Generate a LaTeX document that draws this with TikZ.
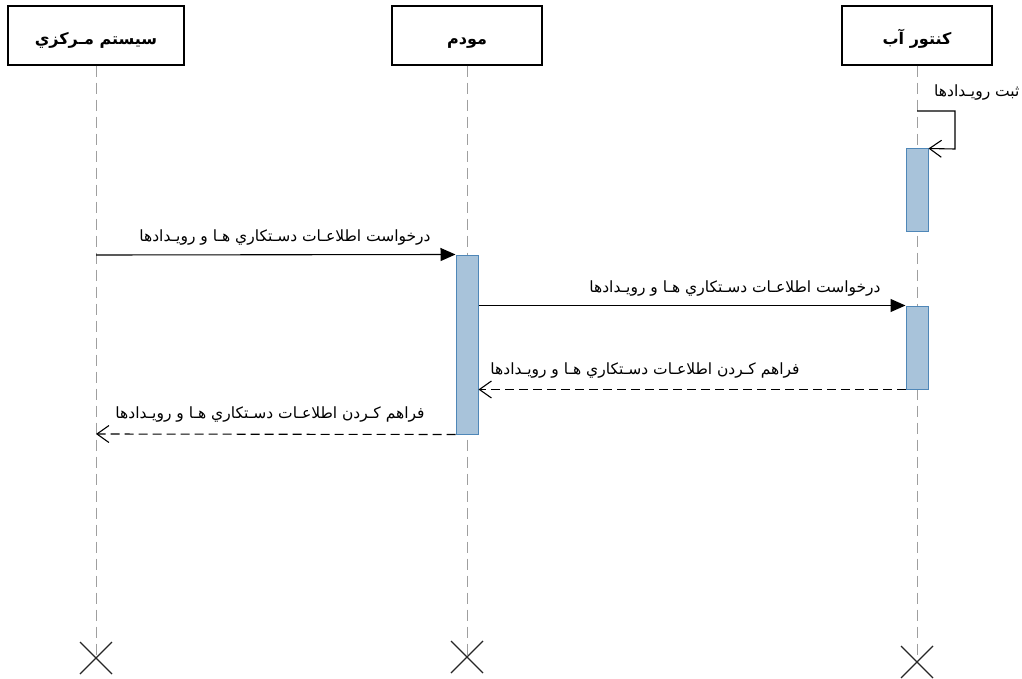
\documentclass[tikz,border=0pt]{standalone}
\usepackage{fontspec}
\newfontfamily\arabicfont[Script=Arabic]{DejaVu Sans}
\TeXXeTstate=1
\usetikzlibrary{arrows.meta,calc}
\definecolor{actfill}{RGB}{168,195,218}
\definecolor{actdraw}{RGB}{79,135,184}
\begin{document}
\begin{tikzpicture}[x=1pt,y=-1pt,
  head/.style={draw,line width=1.2pt,fill=white,inner sep=0pt,text height=20pt,text depth=1pt,font=\arabicfont\bfseries\fontsize{16}{18}\selectfont},
  life/.style={draw=gray!75,dash pattern=on 11pt off 6pt,line width=1pt},
  act/.style={draw=actdraw,fill=actfill,line width=1pt,inner sep=0pt,minimum width=22pt},
  msg/.style={line width=1.1pt,-{Triangle[length=15pt,width=13pt]}},
  ret/.style={line width=1.1pt,dash pattern=on 9pt off 5pt,-{Straight Barb[length=12pt,width=17pt]}},
  lab/.style={font=\arabicfont\fontsize{15.5}{18}\selectfont,inner sep=1pt},
  endx/.style={line width=1.1pt,black!85}]
\useasboundingbox (0,0) rectangle (1022,679);
\clip (0,0) rectangle (1022,679);
% headers
\node[head,minimum width=176pt,minimum height=59pt] (cs) at (96,35.5) {\beginR سیستم مـرکزي\endR};
\node[head,minimum width=150pt,minimum height=59pt] (mo) at (467,35.5) {\beginR مودم\endR};
\node[head,minimum width=150pt,minimum height=59pt] (wm) at (917,35.5) {\beginR کنتور آب\endR};
% end coordinates
\coordinate (csE) at (96,658);
\coordinate (moE) at (467,657);
\coordinate (wmE) at (917,662);
\draw[life] (cs.south) -- (csE);
\draw[life] (mo.south) -- (moE);
\draw[life] (wm.south) -- (wmE);
% X markers
\foreach \p in {csE,moE,wmE}{
  \draw[endx] ($(\p)+(-16,-16)$) -- ($(\p)+(16,16)$);
  \draw[endx] ($(\p)+(-16,16)$) -- ($(\p)+(16,-16)$);
}
% activations
\node[act,minimum height=82pt] (a1) at (917,190) {};
\node[act,minimum height=179pt] (a2) at (467,344.5) {};
\node[act,minimum height=83pt] (a3) at (917,347.5) {};
% self message
\coordinate (s0) at (917,111);
\coordinate (s1) at (955,111);
\coordinate (s2) at (955,149);
\draw[line width=1.1pt,-{Straight Barb[length=12pt,width=17pt]}] (s0) -- (s1) -- (s2) -- (a1.north east);
\node[lab,anchor=west] (l0) at (933,93) {\beginR ثبت رویـدادها\endR};
% messages
\coordinate (m1s) at (96,255);
\draw[msg] (m1s) -- (a2.north west);
\node[lab] (l1) at (285,238) {\beginR درخواست اطلاعـات دسـتكاري هـا و رويـدادها\endR};
\draw[msg] (a2.east |- a3.north) -- (a3.north west);
\node[lab] (l2) at (735,289) {\beginR درخواست اطلاعـات دسـتكاري هـا و رويـدادها\endR};
\draw[ret] (a3.south west) -- (a2.east |- a3.south);
\node[lab] (l3) at (645,371) {\beginR فراهم كـردن اطلاعـات دسـتكاري هـا و رويـدادها\endR};
\coordinate (m4e) at (96,434);
\draw[ret] (a2.south west) -- (m4e);
\node[lab] (l4) at (270,415) {\beginR فراهم كـردن اطلاعـات دسـتكاري هـا و رويـدادها\endR};
\end{tikzpicture}
\end{document}
